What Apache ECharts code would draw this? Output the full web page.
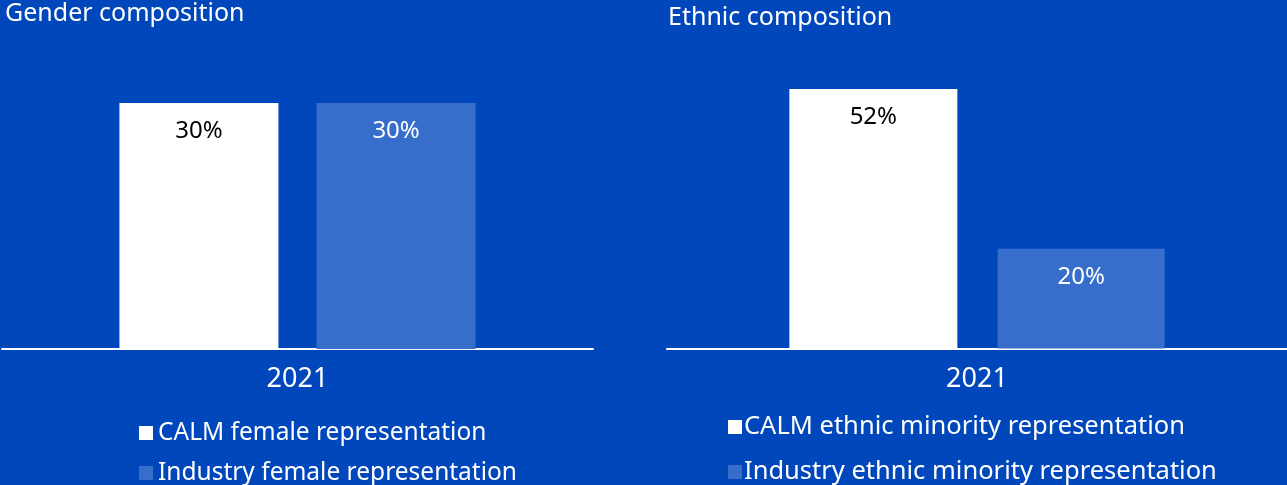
<!DOCTYPE html>
<html>
<head>
<meta charset="utf-8">
<script src="https://cdn.jsdelivr.net/npm/echarts@6/dist/echarts.min.js"></script>
<style>
  html, body { margin: 0; padding: 0; background: #0047bb; }
  #chart { width: 1287px; height: 485px; }
</style>
</head>
<body>
<div id="chart"></div>
<script>
// Workforce composition, 2021
const categories = ['2021'];
const genderSeriesNames = ['CALM female representation', 'Industry female representation'];
const genderValues = [[30], [30]];
const ethnicSeriesNames = ['CALM ethnic minority representation', 'Industry ethnic minority representation'];
const ethnicValues = [[52], [20]];
const titles = ['Gender composition', 'Ethnic composition'];

const FONT = '"Noto Sans", "Open Sans", sans-serif';
const BG = '#0047bb';
const CALM = '#ffffff';
const INDUSTRY = '#376dcb';

const chart = echarts.init(document.getElementById('chart'), null, { renderer: 'canvas' });

function barSeries(name, data, axisIdx, color, labelColor, barWidth) {
  return {
    name: name,
    type: 'bar',
    xAxisIndex: axisIdx,
    yAxisIndex: axisIdx,
    data: data,
    barWidth: barWidth,
    barGap: '24%',
    itemStyle: { color: color },
    label: {
      show: true,
      position: 'insideTop',
      distance: 16,
      formatter: '{c}%',
      color: labelColor,
      fontFamily: FONT,
      fontSize: 24
    },
    emphasis: { disabled: true }
  };
}

function legendText(size, shift) {
  return { color: '#ffffff', fontFamily: FONT, fontSize: size, lineHeight: 26, padding: [0, 0, 0, shift] };
}

const titleStyle = { color: '#fff', fontFamily: FONT, fontSize: 25, fontWeight: 'normal' };

chart.setOption({
  backgroundColor: BG,
  animation: false,
  title: [
    { text: titles[0], left: 5, top: 1, padding: 0, textStyle: titleStyle },
    { text: titles[1], left: 668, top: 5, padding: 0, textStyle: titleStyle }
  ],
  legend: [
    {
      data: genderSeriesNames, orient: 'vertical', left: 139, top: 420, height: 120, padding: 0,
      icon: 'rect', itemWidth: 14, itemHeight: 14, itemGap: 14,
      textStyle: legendText(24.5, 0),
      selectedMode: false
    },
    {
      data: ethnicSeriesNames, orient: 'vertical', left: 728, top: 414, height: 120, padding: 0,
      icon: 'rect', itemWidth: 14, itemHeight: 14, itemGap: 19,
      textStyle: legendText(25.5, -3),
      selectedMode: false
    }
  ],
  grid: [
    { left: 2, width: 591, top: 62, height: 287 },
    { left: 667, width: 620, top: 49, height: 299.5 }
  ],
  xAxis: [0, 1].map(i => ({
    type: 'category',
    gridIndex: i,
    data: categories,
    axisLine: { lineStyle: { color: '#ffffff', width: 2 } },
    axisTick: { show: false },
    axisLabel: { color: '#fff', fontFamily: FONT, fontSize: 27, margin: 17 }
  })),
  yAxis: [
    { type: 'value', gridIndex: 0, min: 0, max: 35, show: false, splitLine: { show: false } },
    { type: 'value', gridIndex: 1, min: 0, max: 60, show: false, splitLine: { show: false } }
  ],
  series: [
    barSeries(genderSeriesNames[0], genderValues[0], 0, CALM, '#000000', 159),
    barSeries(genderSeriesNames[1], genderValues[1], 0, INDUSTRY, '#ffffff', 159),
    barSeries(ethnicSeriesNames[0], ethnicValues[0], 1, CALM, '#000000', 168),
    barSeries(ethnicSeriesNames[1], ethnicValues[1], 1, INDUSTRY, '#ffffff', 167)
  ]
});
</script>
</body>
</html>
